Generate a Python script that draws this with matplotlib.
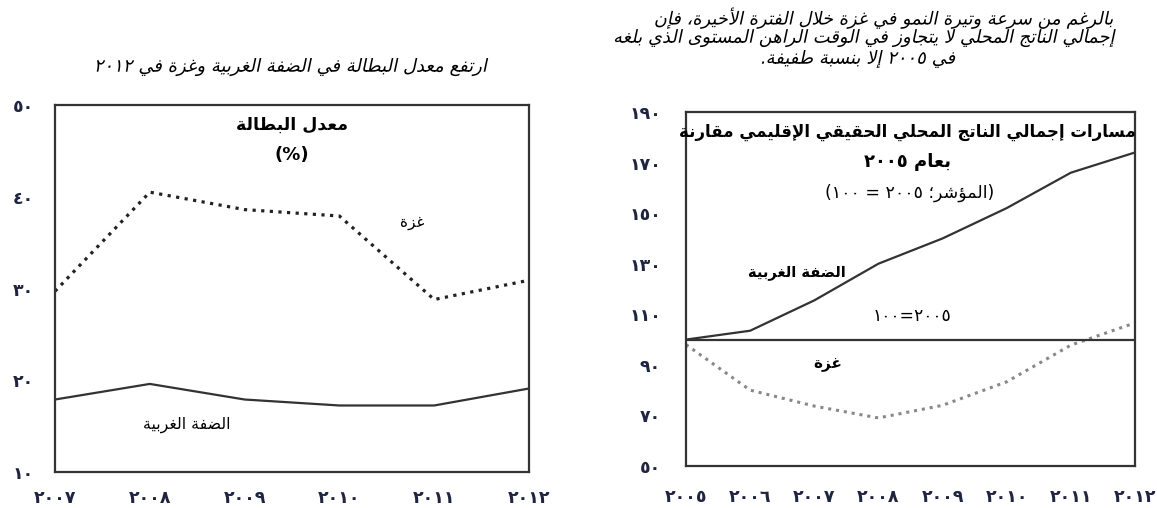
import matplotlib
matplotlib.use("Agg")
import matplotlib.pyplot as plt
from matplotlib.patheffects import AbstractPathEffect
from matplotlib.transforms import Affine2D

# ---------------- Arabic shaping helpers (presentation forms + visual order) -------------
_seq = [('ء', 1), ('آ', 2), ('أ', 2), ('ؤ', 2), ('إ', 2), ('ئ', 4), ('ا', 2), ('ب', 4),
        ('ة', 2), ('ت', 4), ('ث', 4), ('ج', 4), ('ح', 4), ('خ', 4), ('د', 2), ('ذ', 2),
        ('ر', 2), ('ز', 2), ('س', 4), ('ش', 4), ('ص', 4), ('ض', 4), ('ط', 4), ('ظ', 4),
        ('ع', 4), ('غ', 4), ('ف', 4), ('ق', 4), ('ك', 4), ('ل', 4), ('م', 4), ('ن', 4),
        ('ه', 4), ('و', 2), ('ى', 2), ('ي', 4)]
FORMS = {}
_c = 0xFE80
for ch, n in _seq:
    FORMS[ch] = tuple(chr(_c + k) for k in range(n))
    _c += n
LAMALEF = {'آ': ('\uFEF5', '\uFEF6'), 'أ': ('\uFEF7', '\uFEF8'),
           'إ': ('\uFEF9', '\uFEFA'), 'ا': ('\uFEFB', '\uFEFC')}
DIGITS = set('0123456789٠١٢٣٤٥٦٧٨٩')
MIRROR = {'(': ')', ')': '('}


def _shape(s):
    out = []
    i = 0
    n = len(s)
    while i < n:
        c = s[i]
        if c not in FORMS:
            out.append(c)
            i += 1
            continue
        prev_j = i > 0 and s[i - 1] in FORMS and len(FORMS[s[i - 1]]) == 4
        if c == 'ل' and i + 1 < n and s[i + 1] in LAMALEF:
            out.append(LAMALEF[s[i + 1]][1 if prev_j else 0])
            i += 2
            continue
        f = FORMS[c]
        next_j = (len(f) == 4 and i + 1 < n and s[i + 1] in FORMS
                  and len(FORMS[s[i + 1]]) >= 2)
        if prev_j and next_j:
            out.append(f[3])
        elif prev_j and len(f) >= 2:
            out.append(f[1])
        elif next_j:
            out.append(f[2])
        else:
            out.append(f[0])
        i += 1
    return ''.join(out)


def ar(s):
    sh = _shape(s)
    toks = []
    for ch in sh:
        if ch in DIGITS and toks and toks[-1][0] in DIGITS:
            toks[-1] += ch
        else:
            toks.append(ch)
    toks.reverse()
    return ''.join(MIRROR.get(t, t) for t in toks)


def ind(v):
    return str(v).translate(str.maketrans('0123456789', '٠١٢٣٤٥٦٧٨٩'))


class Oblique(AbstractPathEffect):
    """Slants glyphs (the Arabic font has no italic face)."""
    def __init__(self, angle=12):
        super().__init__()
        self.angle = angle

    def draw_path(self, renderer, gc, tpath, affine, rgbFace=None):
        y0 = affine.get_matrix()[1, 2]
        sk = Affine2D().translate(0, -y0).skew_deg(self.angle, 0).translate(0, y0)
        renderer.draw_path(gc, tpath, affine + sk, rgbFace)


# ---------------- data ----------------
years_u = [2007, 2008, 2009, 2010, 2011, 2012]
unemp_gaza = [29.7, 40.5, 38.6, 37.9, 28.8, 30.9]
unemp_wb = [17.9, 19.6, 17.9, 17.25, 17.25, 19.1]
yticks_u = [10, 20, 30, 40, 50]

years_g = [2005, 2006, 2007, 2008, 2009, 2010, 2011, 2012]
gdp_wb = [100, 103.5, 115.5, 130, 140, 152, 166, 174]
gdp_gaza = [98, 80, 73.7, 69, 74, 83.3, 97.8, 106.6]
yticks_g = [50, 70, 90, 110, 130, 150, 170, 190]

title_left = "ارتفع معدل البطالة في الضفة الغربية وغزة في ٢٠١٢"
inner_left = ["معدل البطالة", "(%)"]
lbl_gaza = "غزة"
lbl_wb = "الضفة الغربية"
title_right = ["بالرغم من سرعة وتيرة النمو في غزة خلال الفترة الأخيرة، فإن",
               "إجمالي الناتج المحلي لا يتجاوز في الوقت الراهن المستوى الذي بلغه",
               "في ٢٠٠٥ إلا بنسبة طفيفة."]
inner_right = ["مسارات إجمالي الناتج المحلي الحقيقي الإقليمي مقارنة",
               "بعام ٢٠٠٥",
               "(المؤشر؛ ٢٠٠٥ = ١٠٠)"]
base_lbl = "٢٠٠٥=١٠٠"

# ---------------- figure ----------------
W, H = 1157, 508
plt.rcParams['font.family'] = ['DejaVu Sans']
fig = plt.figure(figsize=(W / 100, H / 100), dpi=100)
renderer = fig.canvas.get_renderer()
TICKC = '#1f2540'
EDGE = '#333333'


def box(x0, y0, x1, y1):
    return [x0 / W, 1 - y1 / H, (x1 - x0) / W, (y1 - y0) / H]


def fit(t, target):
    w = t.get_window_extent(renderer).width
    if w > 0:
        t.set_fontsize(t.get_fontsize() * target / w)
    return t


def ftext(xpx, ypx, s, target=None, size=12, italic=False, **kw):
    t = fig.text(xpx / W, 1 - ypx / H, ar(s), ha='center', va='center', fontsize=size, **kw)
    if target:
        fit(t, target)
    if italic:
        t.set_path_effects([Oblique(12)])
    return t


def style(ax):
    for sp in ax.spines.values():
        sp.set_color(EDGE)
        sp.set_linewidth(1.6)
    ax.tick_params(length=0)
    for t in ax.get_xticklabels() + ax.get_yticklabels():
        t.set_fontweight('bold')
        t.set_color(TICKC)
        t.set_fontsize(12.5)


# left panel
ax1 = fig.add_axes(box(55, 105, 529, 472))
ax1.plot(years_u, unemp_gaza, color='#222222', lw=2.3, ls=(0, (1, 1.7)))
ax1.plot(years_u, unemp_wb, color='#333333', lw=1.6)
ax1.set_xlim(2007, 2012)
ax1.set_ylim(10, 50)
ax1.set_xticks(years_u)
ax1.set_xticklabels([ind(y) for y in years_u])
ax1.set_yticks(yticks_u)
ax1.set_yticklabels([ind(v) for v in yticks_u])
ax1.tick_params(axis='y', pad=15)
ax1.tick_params(axis='x', pad=12)
style(ax1)
ftext(292, 125, inner_left[0], size=12.5, fontweight='bold')
fig.text(292 / W, 1 - 155 / H, inner_left[1], ha='center', va='center', fontsize=13, fontweight='bold')
ftext(412, 223, lbl_gaza, size=11)
ftext(187, 425, lbl_wb, 87)
ftext(291, 67, title_left, 392, italic=True)

# right panel
ax2 = fig.add_axes(box(686, 112, 1135, 466))
ax2.plot(years_g, gdp_gaza, color='#888888', lw=2.2, ls=(0, (1, 1.6)))
ax2.plot(years_g, gdp_wb, color='#333333', lw=1.6)
ax2.axhline(100, color=EDGE, lw=1.6)
ax2.set_xlim(2005, 2012)
ax2.set_ylim(50, 190)
ax2.set_xticks(years_g)
ax2.set_xticklabels([ind(y) for y in years_g])
ax2.set_yticks(yticks_g)
ax2.set_yticklabels([ind(v) for v in yticks_g])
ax2.tick_params(axis='y', pad=18)
ax2.tick_params(axis='x', pad=16)
style(ax2)
ftext(907, 132, inner_right[0], 455, fontweight='bold')
ftext(907, 162, inner_right[1], size=13, fontweight='bold')
ftext(910, 193, inner_right[2], size=12.5)
ftext(797, 273, lbl_wb, size=10.5, fontweight='bold')
ftext(828, 365, lbl_gaza, size=11, fontweight='bold')
ftext(912, 316, base_lbl, 79)
for txt, yy, xx, ww in zip(title_right, [18, 38, 59], [884, 863, 858], [458, 500, 195]):
    ftext(xx, yy, txt, ww, italic=True)

fig.savefig('out.png', dpi=100)
